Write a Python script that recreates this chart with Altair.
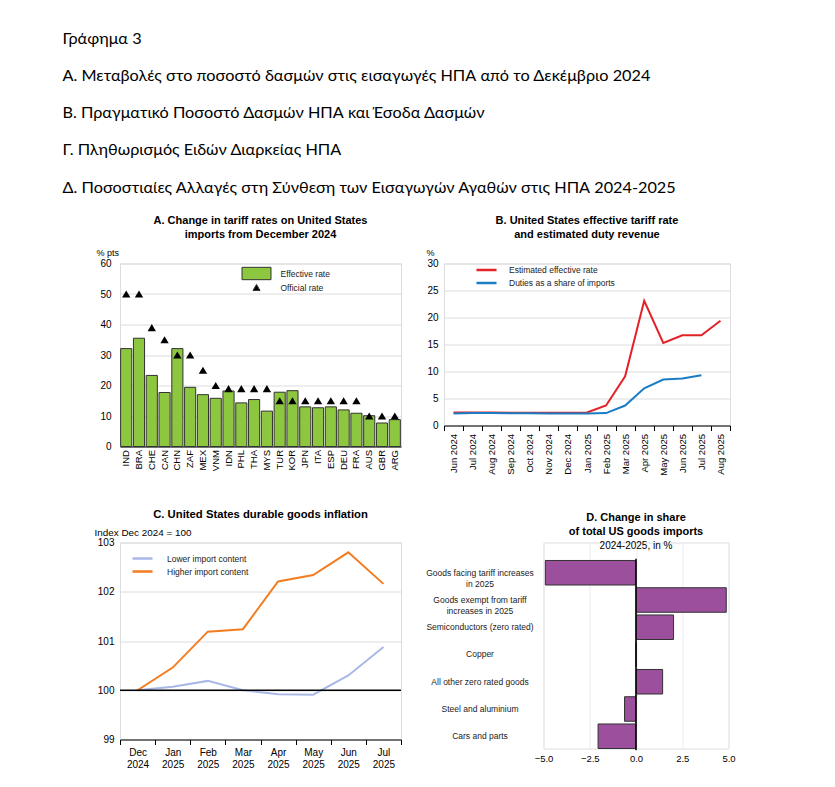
import altair as alt
import pandas as pd

FONT = "Liberation Sans"

header_lines = [
    "Γράφημα 3",
    "Α. Μεταβολές στο ποσοστό δασμών στις εισαγωγές ΗΠΑ από το Δεκέμβριο 2024",
    "Β. Πραγματικό Ποσοστό Δασμών ΗΠΑ και Έσοδα Δασμών",
    "Γ. Πληθωρισμός Ειδών Διαρκείας ΗΠΑ",
    "Δ. Ποσοστιαίες Αλλαγές στη Σύνθεση των Εισαγωγών Αγαθών στις ΗΠΑ 2024-2025",
]

# ---------------- Panel A ----------------
countries = ["IND", "BRA", "CHE", "CAN", "CHN", "ZAF", "MEX", "VNM", "IDN", "PHL", "THA",
             "MYS", "TUR", "KOR", "JPN", "ITA", "ESP", "DEU", "FRA", "AUS", "GBR", "ARG"]
effective_rate = [32.1, 35.5, 23.3, 17.7, 32.1, 19.4, 17.0, 15.8, 18.2, 14.3, 15.4,
                  11.6, 17.8, 18.3, 13.0, 12.7, 13.0, 12.0, 10.9, 10.1, 7.7, 8.8]
official_rate = [50, 50, 39, 35, 30, 30, 25, 20, 19, 19, 19,
                 19, 15, 15, 15, 15, 15, 15, 15, 10, 10, 10]
a_series = ["Effective rate", "Official rate"]

# ---------------- Panel B ----------------
months_b = ["Jun 2024", "Jul 2024", "Aug 2024", "Sep 2024", "Oct 2024", "Nov 2024", "Dec 2024",
            "Jan 2025", "Feb 2025", "Mar 2025", "Apr 2025", "May 2025", "Jun 2025", "Jul 2025", "Aug 2025"]
est_effective = [2.4, 2.4, 2.4, 2.35, 2.35, 2.35, 2.35, 2.4, 3.7, 9.1, 23.1, 15.3, 16.7, 16.7, 19.4]
duties_share = [2.2, 2.3, 2.3, 2.25, 2.25, 2.2, 2.2, 2.2, 2.3, 3.7, 6.9, 8.5, 8.7, 9.3]
b_series = ["Estimated effective rate", "Duties as a share of imports"]

# ---------------- Panel C ----------------
months_c = ["Dec 2024", "Jan 2025", "Feb 2025", "Mar 2025", "Apr 2025", "May 2025", "Jun 2025", "Jul 2025"]
lower_import = [100.0, 100.07, 100.19, 100.0, 99.92, 99.91, 100.3, 100.88]
higher_import = [100.0, 100.46, 101.19, 101.24, 102.21, 102.34, 102.8, 102.16]
c_series = ["Lower import content", "Higher import content"]
c_baseline = [100]

# ---------------- Panel D ----------------
d_cats = ["Goods facing tariff increases in 2025", "Goods exempt from tariff increases in 2025",
          "Semiconductors (zero rated)", "Copper", "All other zero rated goods",
          "Steel and aluminium", "Cars and parts"]
d_vals = [-4.9, 4.88, 2.03, 0.0, 1.44, -0.62, -2.05]
d_zero = 0
d_breaks = {
    "Goods facing tariff increases in 2025": ["Goods facing tariff increases", "in 2025"],
    "Goods exempt from tariff increases in 2025": ["Goods exempt from tariff", "increases in 2025"],
}

GRID = "#dcdcdc"
LINE_SYMBOL = "M-1.67,0L1.67,0"


def ptitle(lines, size=11, **kw):
    return alt.TitleParams(text=lines, font=FONT, fontSize=size, fontWeight="bold", lineHeight=14,
                           frame="group", anchor="middle", color="black", **kw)


# ---- A ----
dfA_eff = pd.DataFrame({"country": countries, "value": effective_rate, "series": a_series[0]})
dfA_off = pd.DataFrame({"country": countries, "value": official_rate, "series": a_series[1]})

rect_path = "M-4.1,-1.75L4.1,-1.75L4.1,1.75L-4.1,1.75Z"
legA = alt.Legend(title=None, orient="none", legendX=132, legendY=5.5, labelFontSize=8.5, labelFont=FONT,
                  symbolSize=50, symbolStrokeColor="#333", symbolStrokeWidth=1, labelOffset=19.5,
                  rowPadding=0, labelColor="#222")
colA = alt.Color("series:N", scale=alt.Scale(domain=a_series, range=["#8DC63F", "#000000"]), legend=legA)
xA = alt.X("country:N", sort=countries, scale=alt.Scale(paddingInner=0.13, paddingOuter=0.05),
           axis=alt.Axis(title=None, labelAngle=-90, labelFontSize=9.5, ticks=False, domain=True,
                         domainColor="black", domainWidth=1, labelPadding=3, labelColor="black"))
yA = alt.Y("value:Q", scale=alt.Scale(domain=[0, 60]),
           axis=alt.Axis(values=[0, 10, 20, 30, 40, 50, 60], title="% pts", titleAngle=0, titleX=-24,
                         titleY=-6, titleAlign="left", titleBaseline="bottom", titleFontWeight="normal",
                         titleFontSize=9, grid=True, gridColor=GRID, domain=False, ticks=False,
                         labelFontSize=10, labelPadding=9, labelColor="black", labelFlush=False))
barsA = alt.Chart(dfA_eff).mark_bar(stroke="#333", strokeWidth=1).encode(x=xA, y=yA, color=colA)
triA = alt.Chart(dfA_off).mark_point(filled=True, opacity=1, size=70).encode(
    x=xA, y=yA, color=colA,
    shape=alt.Shape("series:N", scale=alt.Scale(domain=a_series, range=[rect_path, "triangle-up"]), legend=legA))
chartA = alt.layer(barsA, triA).properties(
    width=281, height=183,
    title=ptitle(["A. Change in tariff rates on United States", "imports from December 2024"], offset=9))

# ---- B ----
dfB = pd.concat([
    pd.DataFrame({"month": months_b, "value": est_effective, "series": b_series[0]}),
    pd.DataFrame({"month": months_b[:len(duties_share)], "value": duties_share, "series": b_series[1]}),
])
chartB = alt.Chart(dfB).mark_line(strokeWidth=2).encode(
    x=alt.X("month:O", sort=months_b, bandPosition=0.5,
            scale=alt.Scale(type="band", paddingInner=0, paddingOuter=0),
            axis=alt.Axis(title=None, labelAngle=-90, tickBand="extent", ticks=True, tickColor="black",
                          tickSize=5, domainColor="black", labelFontSize=9.5, labelColor="black",
                          labelPadding=3)),
    y=alt.Y("value:Q", scale=alt.Scale(domain=[0, 30]),
            axis=alt.Axis(values=[0, 5, 10, 15, 20, 25, 30], title="%", titleAngle=0, titleX=-18,
                          titleY=-6, titleAlign="left", titleBaseline="bottom", titleFontWeight="normal",
                          titleFontSize=9, grid=True, gridColor=GRID, domain=False, ticks=False,
                          labelFontSize=10, labelPadding=6, labelColor="black", labelFlush=False)),
    color=alt.Color("series:N", sort=b_series,
                    scale=alt.Scale(domain=b_series, range=["#E32228", "#1A7DC4"]),
                    legend=alt.Legend(title=None, orient="none", legendX=35, legendY=-1, symbolType=LINE_SYMBOL,
                                      symbolSize=144, symbolStrokeWidth=2.5, labelOffset=15, rowPadding=0,
                                      labelFontSize=8.5, labelFont=FONT, labelColor="#222")),
).properties(width=286, height=162,
             title=ptitle(["B. United States effective tariff rate", "and estimated duty revenue"], offset=9))

# ---- C ----
dfC = pd.concat([
    pd.DataFrame({"month": months_c, "value": lower_import, "series": c_series[0]}),
    pd.DataFrame({"month": months_c, "value": higher_import, "series": c_series[1]}),
])
xC = alt.X("month:O", sort=months_c, bandPosition=0.5,
           scale=alt.Scale(type="band", paddingInner=0, paddingOuter=0),
           axis=alt.Axis(title=None, labelAngle=0, labelExpr="split(datum.label, ' ')", tickBand="extent",
                         ticks=True, tickColor="black", tickSize=5, domainColor="black", labelFontSize=10,
                         labelColor="black", labelLineHeight=12, labelPadding=3))
yC = alt.Y("value:Q", scale=alt.Scale(domain=[99, 103], zero=False),
           axis=alt.Axis(values=[99, 100, 101, 102, 103], format="d", title="Index Dec 2024 = 100",
                         titleAngle=0, titleX=-26, titleY=-5, titleAlign="left", titleBaseline="bottom",
                         titleFontWeight="normal", titleFontSize=9.9, grid=True, gridColor=GRID, domain=False,
                         ticks=False, labelFontSize=10, labelPadding=6, labelColor="black", labelFlush=False))
linesC = alt.Chart(dfC).mark_line(strokeWidth=2).encode(
    x=xC, y=yC,
    color=alt.Color("series:N", sort=c_series,
                    scale=alt.Scale(domain=c_series, range=["#A9B8E6", "#F47C20"]),
                    legend=alt.Legend(title=None, orient="none", legendX=15, legendY=8.5, symbolType=LINE_SYMBOL,
                                      symbolSize=144, symbolStrokeWidth=2.5, labelOffset=17, rowPadding=0,
                                      labelFontSize=8.5, labelFont=FONT, labelColor="#222")),
)
ruleC = alt.Chart(pd.DataFrame({"value": c_baseline})).mark_rule(color="black", strokeWidth=1.5).encode(y=yC)
chartC = alt.layer(linesC, ruleC).properties(
    width=281, height=197, title=ptitle(["C. United States durable goods inflation"], size=11.3, offset=7))

# ---- D ----
dfD = pd.DataFrame({"cat": d_cats, "value": d_vals})
dfD_zero = pd.DataFrame({"cat": d_cats, "value": [d_zero] * len(d_cats)})
expr_parts = []
for k, v in d_breaks.items():
    expr_parts.append("datum.label == '%s' ? ['%s', '%s']" % (k, v[0], v[1]))
labelExprD = " : ".join(expr_parts) + " : datum.label"
xD = alt.X("value:Q", scale=alt.Scale(domain=[-5, 5], nice=False),
           axis=alt.Axis(values=[-5, -2.5, 0, 2.5, 5], format=".1f", title=None, grid=True,
                         gridColor="#ececf4", domain=False, ticks=False, labelFontSize=9.5,
                         labelPadding=5, labelColor="black", labelFlush=False))
yD = alt.Y("cat:N", sort=d_cats, scale=alt.Scale(paddingInner=0.1, paddingOuter=0.33, align=1),
           axis=alt.Axis(title=None, labelAlign="center", labelPadding=64, ticks=False, domain=False,
                         labelFontSize=8.5, labelLineHeight=11, labelBaseline="middle", labelColor="#222",
                         labelExpr=labelExprD, labelLimit=300))
barsD = alt.Chart(dfD).mark_bar(color="#9B4F9D", stroke="#333", strokeWidth=1).encode(x=xD, y=yD)
zeroD = alt.Chart(dfD_zero).mark_tick(color="black", thickness=1.5, size=28, opacity=1,
                                      orient="vertical").encode(x=xD, y=yD)
chartD = alt.layer(barsD, zeroD).properties(
    width=185, height=206,
    title=ptitle(["D. Change in share", "of total US goods imports"], offset=-8,
                 subtitle="2024-2025, in %", subtitleFont=FONT, subtitleFontSize=10,
                 subtitleColor="black", subtitlePadding=4))

top = alt.concat(chartA, chartB, columns=2, spacing=23, align="none").resolve_scale(
    color="independent", shape="independent")
bottom = alt.concat(chartC, chartD, columns=2, spacing=21.5, align="none").resolve_scale(
    color="independent", shape="independent")

chart = alt.concat(top, bottom, columns=1, spacing=32, align="none").resolve_scale(
    color="independent", shape="independent").properties(
    title=alt.TitleParams(text=header_lines, anchor="start", font="Lato", fontSize=16.25,
                          fontWeight="normal", lineHeight=37.3, dx=-31, offset=18, color="black"),
    padding={"left": 54, "top": 22.5, "right": 5, "bottom": 5},
).configure_view(stroke=None).configure(font=FONT)

chart.save("out.html", embed_options={"renderer": "svg", "actions": False})
